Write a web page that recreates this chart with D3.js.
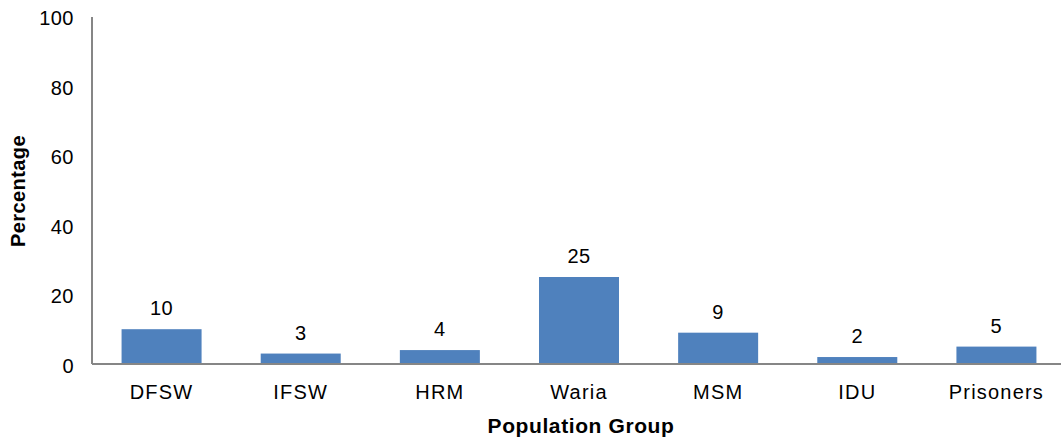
<!DOCTYPE html>
<html>
<head>
<meta charset="utf-8">
<script src="https://cdn.jsdelivr.net/npm/d3@7"></script>
<style>
  html, body { margin: 0; padding: 0; background: #fff; }
  svg { display: block; font-family: "Liberation Sans", Arial, sans-serif; }
</style>
</head>
<body>
<svg id="chart" width="1061" height="441"></svg>
<script>
// Population groups and their percentages
const categories = ["DFSW", "IFSW", "HRM", "Waria", "MSM", "IDU", "Prisoners"];
const values = [10, 3, 4, 25, 9, 2, 5];
const yTicks = [0, 20, 40, 60, 80, 100];

const svg = d3.select("#chart");
const plotLeft = 92, plotRight = 1066, plotTop = 16, plotBottom = 364;

const x = d3.scaleBand()
  .domain(categories)
  .range([plotLeft, plotRight])
  .paddingInner(0.425)
  .paddingOuter(0.2125);

const y = d3.scaleLinear().domain([0, 100]).range([plotBottom, plotTop]);

// Bars
svg.append("g").selectAll("rect")
  .data(categories)
  .join("rect")
  .attr("x", d => x(d))
  .attr("width", x.bandwidth())
  .attr("y", (d, i) => y(values[i]))
  .attr("height", (d, i) => y(0) - y(values[i]))
  .attr("fill", "#4F81BD");

// Value labels
svg.append("g").selectAll("text")
  .data(categories)
  .join("text")
  .attr("x", d => x(d) + x.bandwidth() / 2)
  .attr("y", (d, i) => y(values[i]) - 14)
  .attr("text-anchor", "middle")
  .attr("font-size", 20)
  .attr("letter-spacing", 0.5)
  .attr("fill", "#000")
  .text((d, i) => values[i]);

// Y axis
const yAxis = svg.append("g")
  .attr("transform", `translate(${plotLeft},0)`)
  .call(d3.axisLeft(y).tickValues(yTicks).tickSize(0).tickPadding(18));
yAxis.select(".domain").attr("stroke", "#868686").attr("stroke-width", 2)
  .attr("d", `M0,${plotBottom}V${y(100) + 1}`);
yAxis.selectAll("text")
  .attr("font-size", 20)
  .attr("letter-spacing", 0.5)
  .attr("fill", "#000")
  .attr("font-family", "Liberation Sans, Arial, sans-serif")
  .attr("dy", "0.42em");

// X axis
const xAxis = svg.append("g")
  .attr("transform", `translate(0,${plotBottom})`)
  .call(d3.axisBottom(x).tickSize(0).tickPadding(21));
xAxis.select(".domain").attr("stroke", "#868686").attr("stroke-width", 2)
  .attr("d", `M${plotLeft},0H${plotRight}`);
xAxis.selectAll("text")
  .attr("font-size", 20)
  .attr("letter-spacing", 1.2)
  .attr("fill", "#000")
  .attr("font-family", "Liberation Sans, Arial, sans-serif");

// Axis titles
svg.append("text")
  .attr("x", (plotLeft + plotRight) / 2 + 2)
  .attr("y", 433)
  .attr("text-anchor", "middle")
  .attr("font-size", 21)
  .attr("font-weight", "bold")
  .attr("letter-spacing", 0.6)
  .text("Population Group");

svg.append("text")
  .attr("transform", "translate(25,191) rotate(-90)")
  .attr("text-anchor", "middle")
  .attr("font-size", 20)
  .attr("font-weight", "bold")
  .attr("letter-spacing", 0.4)
  .text("Percentage");
</script>
</body>
</html>
